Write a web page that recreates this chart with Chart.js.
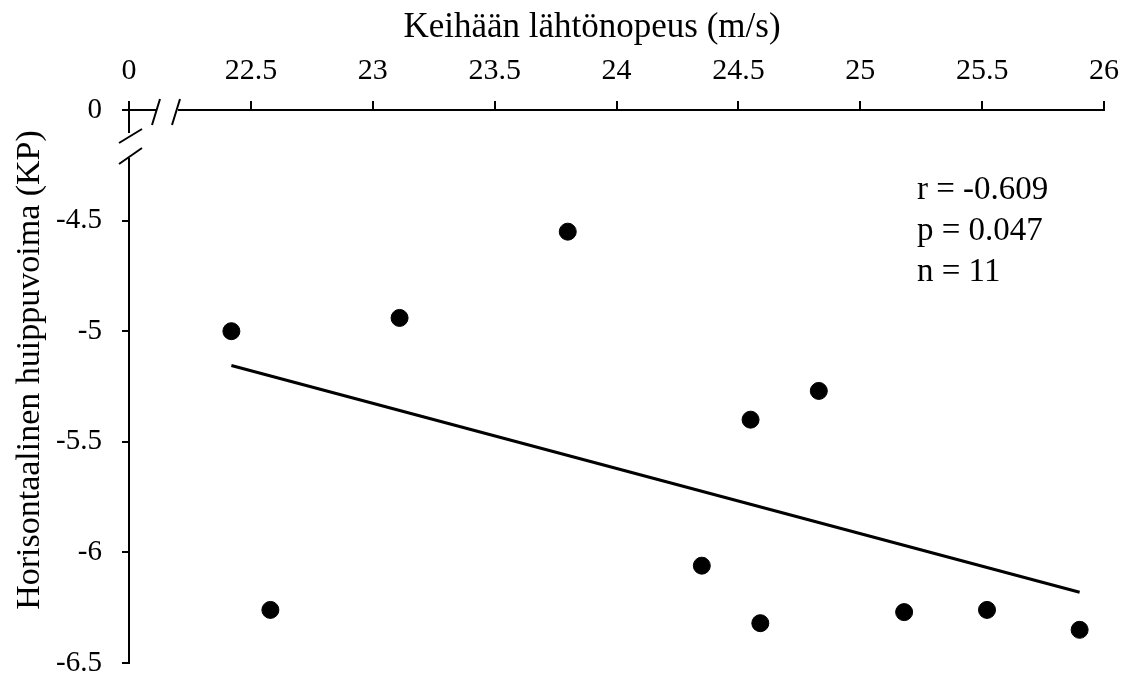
<!DOCTYPE html>
<html>
<head>
<meta charset="utf-8">
<script src="https://cdn.jsdelivr.net/npm/chart.js@4/dist/chart.umd.min.js"></script>
<style>
  html, body { margin: 0; padding: 0; background: #fff; }
  #wrap { width: 1131px; height: 680px; }
</style>
</head>
<body>
<div id="wrap"><canvas id="myChart"></canvas></div>
<script>
// values
const speed = [22.42, 22.58, 23.11, 23.80, 24.35, 24.55, 24.59, 24.83, 25.18, 25.52, 25.90];
const force = [-5.00, -6.26, -4.94, -4.55, -6.06, -5.40, -6.32, -5.27, -6.27, -6.26, -6.35];
const trendX = [22.42, 25.90];
const trendY = [-5.155, -6.18];
const statLines = ['r = -0.609', 'p = 0.047', 'n = 11'];
const xTitle = 'Keihään lähtönopeus (m/s)';
const yTitle = 'Horisontaalinen huippuvoima (KP)';

const FONT = "'Liberation Serif', 'Times New Roman', serif";

const points = speed.map((v, i) => ({ x: v, y: force[i] }));
const trend = trendX.map((v, i) => ({ x: v, y: trendY[i] }));

// axis lines with break marks, titles and stats text
const axisPlugin = {
    id: 'axisBreaks',
    afterDraw(chart) {
        const ctx = chart.ctx;
        const a = chart.chartArea;
        const l = a.left, t = a.top;
        ctx.save();
        ctx.strokeStyle = '#000';
        ctx.lineWidth = 2;
        ctx.lineCap = 'butt';
        ctx.beginPath();
        // x axis
        ctx.moveTo(l - 1, t); ctx.lineTo(l + 28, t);
        ctx.moveTo(l + 49, t); ctx.lineTo(a.right + 1, t);
        ctx.moveTo(l + 23, t + 15); ctx.lineTo(l + 31, t - 11);
        ctx.moveTo(l + 43, t + 15); ctx.lineTo(l + 51, t - 11);
        // y axis
        ctx.moveTo(l, t); ctx.lineTo(l, t + 23);
        ctx.moveTo(l, t + 48); ctx.lineTo(l, a.bottom + 1);
        ctx.moveTo(l - 10, t + 33); ctx.lineTo(l + 13, t + 19);
        ctx.moveTo(l - 10, t + 54); ctx.lineTo(l + 13, t + 38);
        ctx.stroke();

        ctx.fillStyle = '#000';
        ctx.font = '35px ' + FONT;
        ctx.textAlign = 'center';
        ctx.textBaseline = 'middle';
        ctx.fillText(xTitle, 592, 28);

        ctx.font = '34px ' + FONT;
        ctx.save();
        ctx.translate(30, 370);
        ctx.rotate(-Math.PI / 2);
        ctx.fillText(yTitle, 0, 0);
        ctx.restore();

        ctx.textAlign = 'left';
        ctx.font = '33px ' + FONT;
        statLines.forEach((s, i) => ctx.fillText(s, 917, 190 + i * 41));
        ctx.restore();
    }
};

new Chart(document.getElementById('myChart'), {
    type: 'scatter',
    data: {
        datasets: [
            {
                label: 'trend',
                type: 'line',
                data: trend,
                borderColor: '#000',
                borderWidth: 3,
                pointRadius: 0,
                fill: false
            },
            {
                label: 'data',
                data: points,
                backgroundColor: '#000',
                borderColor: '#000',
                pointRadius: 8.5,
                pointHoverRadius: 8.5
            }
        ]
    },
    options: {
        responsive: true,
        maintainAspectRatio: false,
        animation: false,
        events: [],
        layout: { padding: { left: 0, top: 0, right: 27, bottom: 17 } },
        plugins: {
            legend: { display: false },
            tooltip: { enabled: false }
        },
        scales: {
            x: {
                type: 'linear',
                position: 'top',
                min: 22,
                max: 26,
                afterFit: (s) => { s.height = 110; s.paddingLeft = 0; s.paddingRight = 0; },
                border: { display: false },
                grid: { drawOnChartArea: false, drawTicks: true, tickLength: 9, color: '#000', lineWidth: 2 },
                ticks: {
                    stepSize: 0.5,
                    color: '#000',
                    padding: 12,
                    maxRotation: 0,
                    font: { family: FONT, size: 30 },
                    callback: (v) => v === 22 ? '0' : String(v)
                }
            },
            y: {
                type: 'linear',
                min: -6.5,
                max: -4,
                afterFit: (s) => { s.width = 129; s.paddingTop = 0; s.paddingBottom = 0; },
                border: { display: false },
                grid: { drawOnChartArea: false, drawTicks: true, tickLength: 7, color: '#000', lineWidth: 2 },
                ticks: {
                    stepSize: 0.5,
                    color: '#000',
                    padding: 20,
                    font: { family: FONT, size: 29 },
                    callback: (v) => v === -4 ? '0' : String(v)
                }
            }
        }
    },
    plugins: [axisPlugin]
});
</script>
</body>
</html>
